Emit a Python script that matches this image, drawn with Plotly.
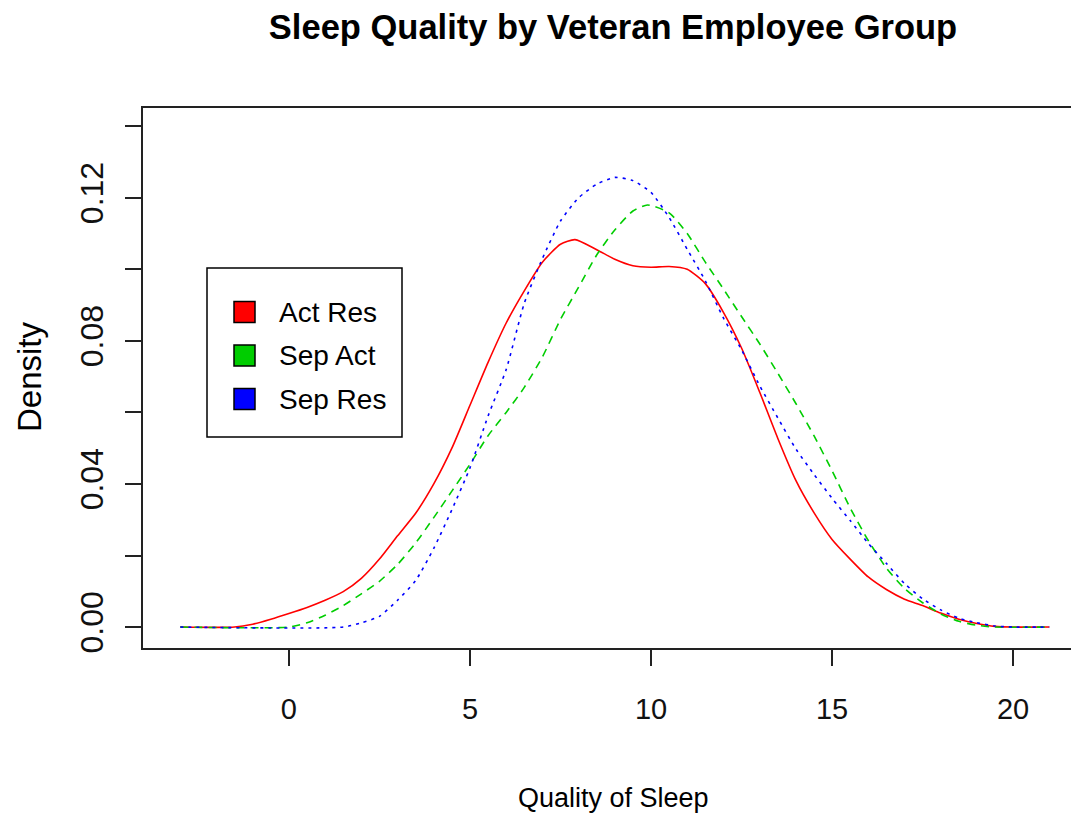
import plotly.graph_objects as go

# density estimates
act_res_x = [-3, -1.5, -1.0, -0.5, 0, 0.5, 1, 1.5, 2, 2.5, 3, 3.5, 4, 4.5, 5, 5.5, 6, 6.5, 7, 7.5, 7.9,
             8.5, 9, 9.5, 10, 10.5, 11, 11.5, 12, 12.5, 13, 13.5, 14, 14.5, 15, 15.5, 16, 16.5, 17,
             17.5, 18, 18.5, 19, 19.5, 20, 21]
act_res_y = [0, 0, 0.0008, 0.0022, 0.0038, 0.0055, 0.0075, 0.0099, 0.0136, 0.019, 0.0255, 0.0318, 0.040,
             0.050, 0.062, 0.074, 0.085, 0.094, 0.102, 0.107, 0.1083, 0.1055, 0.1028, 0.101, 0.1006,
             0.1008, 0.100, 0.096, 0.088, 0.078, 0.0657, 0.0528, 0.041, 0.032, 0.0245, 0.019, 0.014,
             0.0105, 0.0078, 0.006, 0.0039, 0.0022, 0.001, 0.0002, 0, 0]

sep_act_x = [-3, 0, 0.5, 1, 1.5, 2, 2.5, 3, 3.5, 4, 4.5, 5, 5.5, 6, 6.5, 7, 7.5, 8, 8.5, 9, 9.5, 9.9,
             10.5, 11, 11.5, 12, 12.5, 13, 13.5, 14, 14.5, 15, 15.5, 16, 16.5, 17, 17.5, 18, 18.5, 19,
             19.5, 21]
sep_act_y = [0, 0, 0.0012, 0.0033, 0.006, 0.0093, 0.0128, 0.0175, 0.0235, 0.0306, 0.038, 0.0455, 0.0535,
             0.060, 0.067, 0.0755, 0.086, 0.095, 0.104, 0.111, 0.1163, 0.118, 0.1158, 0.110, 0.102,
             0.0945, 0.0868, 0.0792, 0.071, 0.0625, 0.0535, 0.0437, 0.0333, 0.0242, 0.0165, 0.0108,
             0.0068, 0.0037, 0.0016, 0.0005, 0, 0]

sep_res_x = [-3, 1.5, 2, 2.5, 3, 3.5, 4, 4.5, 5, 5.5, 6, 6.5, 7, 7.5, 8, 8.5, 9, 9.5, 10, 10.5, 11,
             11.5, 12, 12.5, 13, 13.5, 14, 14.5, 15, 15.5, 16, 16.5, 17, 17.5, 18, 18.5, 19, 19.5, 20, 21]
sep_res_y = [0, 0, 0.0012, 0.003, 0.0075, 0.013, 0.022, 0.0328, 0.0445, 0.059, 0.072, 0.0905, 0.103,
             0.1135, 0.120, 0.1238, 0.1257, 0.1248, 0.1215, 0.1145, 0.1056, 0.0968, 0.0864, 0.0775,
             0.0675, 0.0585, 0.0498, 0.0427, 0.036, 0.0298, 0.0234, 0.0178, 0.0122, 0.0079, 0.0048,
             0.0025, 0.0012, 0.0003, 0, 0]

group_names = ["Act Res", "Sep Act", "Sep Res"]
group_colors = ["#ff0000", "#00cd00", "#0000ff"]
group_dash = ["solid", "8px,6px", "3px,5px"]

x_ticks = [0, 5, 10, 15, 20]
y_ticks = [0, 0.02, 0.04, 0.06, 0.08, 0.10, 0.12, 0.14]
y_tick_text = ["0.00", "", "0.04", "", "0.08", "", "0.12", ""]

# the page body adds an 8px margin, so the figure is drawn 8px smaller/shifted
OFF = 8
W, H = 1079 - OFF, 820 - OFF
L, T = 143 - OFF, 108 - OFF
B = H - (648 - OFF)
font = "Liberation Sans, Arial"

fig = go.Figure()
series = [(act_res_x, act_res_y), (sep_act_x, sep_act_y), (sep_res_x, sep_res_y)]
for (xs, ys), name, col, dash in zip(series, group_names, group_colors, group_dash):
    fig.add_trace(go.Scatter(x=xs, y=ys, mode="lines", name=name,
                             line=dict(color=col, width=1.6, dash=dash, shape="spline", smoothing=0.6)))

pw = W - L
ph = H - T - B
def px_x(p):
    return (p - OFF - L) / pw
def px_y(p):
    return 1 - (p - OFF - T) / ph

# legend box drawn the way R's legend() looks
fig.add_shape(type="rect", xref="paper", yref="paper",
              x0=px_x(207), x1=px_x(402), y0=px_y(437), y1=px_y(268),
              line=dict(color="black", width=1.5), fillcolor="white", layer="above")
for i, (name, col) in enumerate(zip(group_names, group_colors)):
    cy = 312 + i * 43.5
    fig.add_shape(type="rect", xref="paper", yref="paper",
                  x0=px_x(234), x1=px_x(255), y0=px_y(cy + 10.5), y1=px_y(cy - 10.5),
                  line=dict(color="black", width=1.5), fillcolor=col, layer="above")
    fig.add_annotation(xref="paper", yref="paper", x=px_x(277), y=px_y(cy), text=name,
                       showarrow=False, xanchor="left", yanchor="middle",
                       font=dict(family=font, size=28, color="black"))

fig.add_annotation(xref="paper", yref="paper", x=px_x(613), y=px_y(798), text="Quality of Sleep",
                   showarrow=False, xanchor="center", yanchor="middle",
                   font=dict(family=font, size=27, color="black"))
fig.add_annotation(xref="paper", yref="paper", x=px_x(29), y=px_y(377), text="Density",
                   showarrow=False, xanchor="center", yanchor="middle", textangle=-90,
                   font=dict(family=font, size=33, color="black"))

fig.update_layout(
    width=W, height=H,
    margin=dict(l=L, r=0, t=T, b=B),
    plot_bgcolor="white", paper_bgcolor="white",
    showlegend=False,
    title=dict(text="<b>Sleep Quality by Veteran Employee Group</b>", xref="container",
               x=(613 - OFF) / W, xanchor="center", yref="container", y=1 - (27 - OFF) / H,
               yanchor="middle", font=dict(family=font, size=34.5, color="black")),
)
fig.update_xaxes(range=[-4.03, 21.82], tickvals=x_ticks, ticktext=[str(v) for v in x_ticks],
                 showgrid=False, zeroline=False, showline=True, mirror=True,
                 linecolor="#222", linewidth=1.5, ticks="outside", ticklen=16, tickwidth=1.5,
                 tickcolor="#222", ticklabelstandoff=18, tickfont=dict(family=font, size=29, color="#111"))
fig.update_yaxes(range=[-0.00585, 0.1451], tickvals=y_ticks, ticktext=y_tick_text, tickangle=-90,
                 showgrid=False, zeroline=False, showline=True, mirror=False,
                 linecolor="#222", linewidth=1.5, ticks="outside", ticklen=16, tickwidth=1.5,
                 tickcolor="#222", ticklabelstandoff=9, tickfont=dict(family=font, size=32, color="#111"))

fig.write_html("out.html")
